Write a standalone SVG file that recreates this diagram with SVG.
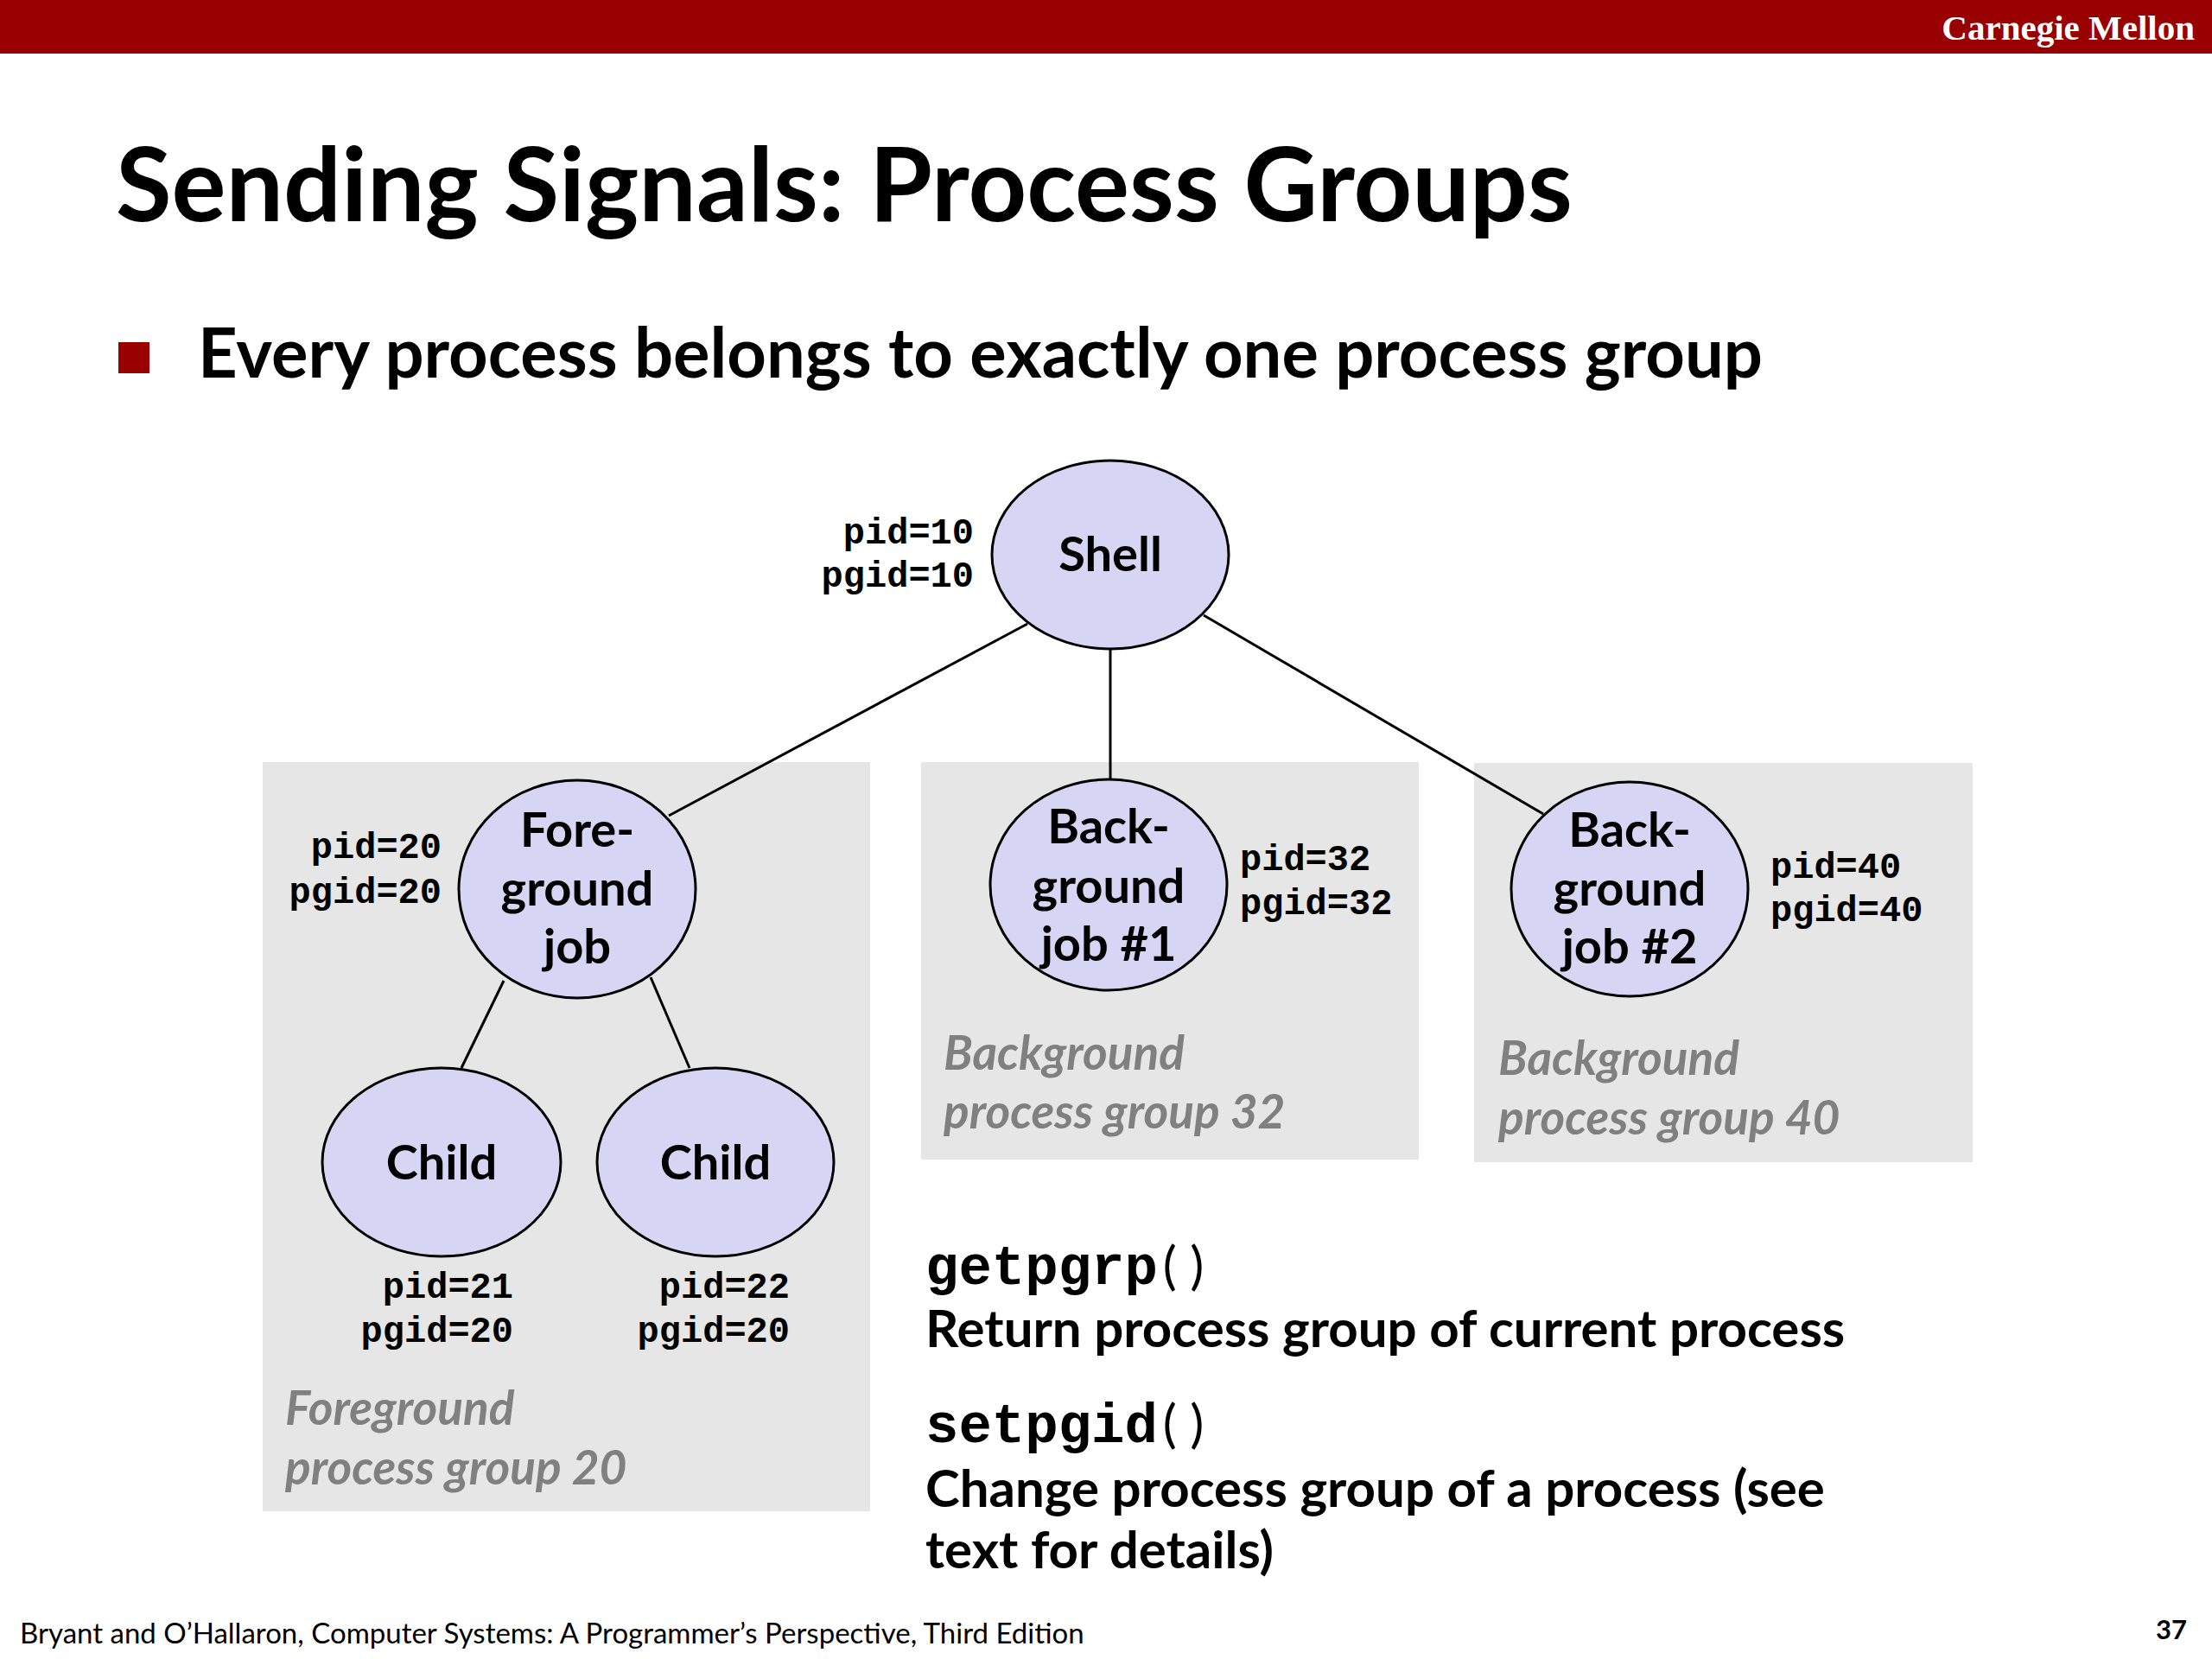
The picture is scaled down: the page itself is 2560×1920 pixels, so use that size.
<svg xmlns="http://www.w3.org/2000/svg" width="2560" height="1920" viewBox="0 0 2560 1920">
<style>
.node{fill:#d6d6f4;stroke:#000;stroke-width:3}
.box{fill:#e6e6e6}
.lbl{font-family:Lato,"Open Sans",sans-serif;font-weight:bold;font-size:56px;fill:#000;text-anchor:middle}
.mono{font-family:"Liberation Mono","Courier New",monospace;font-weight:bold;font-size:42px;fill:#000}
.grp{font-family:Lato,"Open Sans",sans-serif;font-weight:bold;font-style:italic;font-size:55px;fill:#808080}
.body{font-family:Lato,"Open Sans",sans-serif;font-weight:bold;font-size:60px;fill:#000}
.paren{font-family:Lato,"Open Sans",sans-serif;font-weight:normal;font-size:60px;fill:#000}
.conn line{stroke:#000;stroke-width:3}
</style>
<rect x="0" y="0" width="2560" height="1920" fill="#fff"/>
<rect x="0" y="0" width="2560" height="62" fill="#990000"/>
<text x="2540" y="46" font-family="Liberation Serif,serif" font-weight="bold" font-size="41" fill="#fff" text-anchor="end">Carnegie Mellon</text>
<text x="134" y="256" font-family="Lato,sans-serif" font-weight="bold" font-size="118" fill="#000">Sending Signals: Process Groups</text>
<rect x="137" y="396" width="36" height="36" fill="#990000"/>
<text x="229" y="437" font-family="Lato,sans-serif" font-weight="bold" font-size="79.5" fill="#000">Every process belongs to exactly one process group</text>

<g id="groups">
<rect class="box" x="304" y="882" width="703" height="867"/>
<rect class="box" x="1066" y="882" width="576" height="460"/>
<rect class="box" x="1706" y="883" width="577" height="462"/>
</g>

<g id="connectors" class="conn">
<line x1="1189" y1="722" x2="774" y2="944"/>
<line x1="1285" y1="751" x2="1285" y2="903"/>
<line x1="1393" y1="712" x2="1786" y2="942"/>
<line x1="583" y1="1135" x2="534" y2="1236"/>
<line x1="753" y1="1131" x2="798" y2="1236"/>
</g>

<g id="shell">
<ellipse class="node" cx="1285" cy="642" rx="137" ry="109"/>
<text class="lbl" x="1285" y="661">Shell</text>
<text class="mono" x="1127" y="629" text-anchor="end">pid=10</text>
<text class="mono" x="1127" y="679" text-anchor="end">pgid=10</text>
</g>

<g id="foreground">
<ellipse class="node" cx="668" cy="1029" rx="137" ry="126"/>
<text class="lbl" x="668" y="980">Fore-</text>
<text class="lbl" x="668" y="1048">ground</text>
<text class="lbl" x="668" y="1115">job</text>
<text class="mono" x="511" y="993" text-anchor="end">pid=20</text>
<text class="mono" x="511" y="1045" text-anchor="end">pgid=20</text>
</g>

<g id="child1">
<ellipse class="node" cx="511" cy="1345" rx="138" ry="109"/>
<text class="lbl" x="511" y="1365">Child</text>
<text class="mono" x="594" y="1502" text-anchor="end">pid=21</text>
<text class="mono" x="594" y="1553" text-anchor="end">pgid=20</text>
</g>

<g id="child2">
<ellipse class="node" cx="828" cy="1345" rx="137" ry="109"/>
<text class="lbl" x="828" y="1365">Child</text>
<text class="mono" x="914" y="1502" text-anchor="end">pid=22</text>
<text class="mono" x="914" y="1553" text-anchor="end">pgid=20</text>
</g>

<g id="bg1">
<ellipse class="node" cx="1283" cy="1024" rx="137" ry="122"/>
<text class="lbl" x="1283" y="976">Back-</text>
<text class="lbl" x="1283" y="1045">ground</text>
<text class="lbl" x="1283" y="1112">job #1</text>
<text class="mono" x="1435" y="1007">pid=32</text>
<text class="mono" x="1435" y="1058">pgid=32</text>
</g>

<g id="bg2">
<ellipse class="node" cx="1886" cy="1029" rx="137" ry="124"/>
<text class="lbl" x="1886" y="980">Back-</text>
<text class="lbl" x="1886" y="1048">ground</text>
<text class="lbl" x="1886" y="1115">job #2</text>
<text class="mono" x="2049" y="1016">pid=40</text>
<text class="mono" x="2049" y="1066">pgid=40</text>
</g>

<g id="group-labels">
<text class="grp" x="330" y="1649">Foreground</text>
<text class="grp" x="330" y="1718">process group 20</text>
<text class="grp" x="1092" y="1238">Background</text>
<text class="grp" x="1092" y="1306">process group 32</text>
<text class="grp" x="1734" y="1244">Background</text>
<text class="grp" x="1734" y="1313">process group 40</text>
</g>

<g id="notes">
<text x="1071" y="1486"><tspan class="mono" style="font-size:64px">getpgrp</tspan><tspan class="paren" dx="6">( )</tspan></text>
<text class="body" x="1071" y="1559">Return process group of current process</text>
<text x="1071" y="1669"><tspan class="mono" style="font-size:64px">setpgid</tspan><tspan class="paren" dx="6">( )</tspan></text>
<text class="body" x="1071" y="1744">Change process group of a process (see</text>
<text class="body" x="1071" y="1815">text for details)</text>
</g>

<text x="23" y="1902" font-family="Lato,sans-serif" font-size="33" fill="#000">Bryant and O’Hallaron, Computer Systems: A Programmer’s Perspective, Third Edition</text>
<text x="2531" y="1897" font-family="Lato,sans-serif" font-weight="bold" font-size="31" fill="#000" text-anchor="end">37</text>
</svg>
